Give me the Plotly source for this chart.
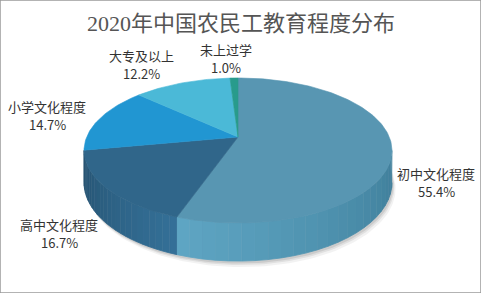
import numpy as np
import plotly.graph_objects as go

# ---- data ----
categories = ["初中文化程度", "高中文化程度", "小学文化程度", "大专及以上", "未上过学"]
values = [55.4, 16.7, 14.7, 12.2, 1.0]
title_text = "2020年中国农民工教育程度分布"

# ---- styles ----
top_colors = ["#5896b2", "#30668a", "#2196d2", "#4bb9d7", "#289b8c"]
side_light = ["#5fa6c4", "#35729a", "#1b7fb3", "#3a9cb8", "#22806f"]
side_dark = ["#3d7c98", "#24506e", "#176b99", "#2f86a0", "#1b6b5e"]
label_pos = [(436, 182), (59, 233), (47, 115), (141, 64), (226, 58)]

W, Hh = 481, 293
CX, CY = 238.0, 137.0      # projected pie centre
A0, C, E = 151.3, 70.0, 0.186  # perspective ellipse parameters
DEPTH = 31.0


def proj(t):
    u, v = np.sin(t), np.cos(t)
    w = 1 + E * v
    return CX + A0 * u / w, CY - C * v / w, w


fig = go.Figure()

total = sum(values)
fr = np.cumsum([0] + values) / total * 2 * np.pi
t_lo = np.arccos(-E)
t_hi = 2 * np.pi - t_lo

# shadow
ts = np.linspace(t_lo - 0.3, t_hi + 0.3, 120)
for off, alpha in [(6, 0.05), (4, 0.07), (2.5, 0.09)]:
    x, y, w = proj(ts)
    yb = y + DEPTH / w
    fig.add_trace(go.Scatter(x=list(x + off * 0.6) + [CX], y=list(yb + off) + [CY],
                             fill="toself", mode="lines", line=dict(width=0),
                             fillcolor=f"rgba(0,0,0,{alpha})", hoverinfo="skip",
                             showlegend=False))


def mix(c1, c2, f):
    a = [int(c1[i:i + 2], 16) for i in (1, 3, 5)]
    b = [int(c2[i:i + 2], 16) for i in (1, 3, 5)]
    return "#%02x%02x%02x" % tuple(int(round(a[k] + (b[k] - a[k]) * f)) for k in range(3))


# side walls
for i in range(len(values)):
    s, e = max(fr[i], t_lo), min(fr[i + 1], t_hi)
    if e <= s:
        continue
    n = 24
    edges = np.linspace(s, e, n + 1)
    for k in range(n):
        tt = np.linspace(edges[k], edges[k + 1], 6)
        x, y, w = proj(tt)
        yb = y + DEPTH / w
        mid = (edges[k] + edges[k + 1]) / 2
        f = (mid - t_lo) / (t_hi - t_lo)
        if i == 0:
            col = mix(side_dark[i], side_light[i], min(1, f * 1.6))
        else:
            col = mix(side_light[i], side_dark[i], min(1, (f - 0.6) / 0.4))
        fig.add_trace(go.Scatter(x=list(x) + list(x[::-1]), y=list(y) + list(yb[::-1]),
                                 fill="toself", mode="lines",
                                 line=dict(width=0.8, color=col), fillcolor=col,
                                 hoverinfo="skip", showlegend=False))

# top faces
for i in range(len(values)):
    tt = np.linspace(fr[i], fr[i + 1], max(4, int(values[i] * 3)))
    x, y, w = proj(tt)
    fig.add_trace(go.Scatter(x=[CX] + list(x) + [CX], y=[CY] + list(y) + [CY],
                             fill="toself", mode="lines",
                             line=dict(width=0.6, color=top_colors[i]),
                             fillcolor=top_colors[i], name=categories[i],
                             hoverinfo="name", showlegend=False))

# labels (name and percentage as separate lines)
lab_font = dict(family="Noto Sans CJK SC", size=13, color="#333333")
for cat, val, (lx, ly) in zip(categories, values, label_pos):
    fig.add_annotation(x=lx, y=ly - 9, xref="x", yref="y", showarrow=False,
                       text=cat, font=lab_font)
    fig.add_annotation(x=lx, y=ly + 9, xref="x", yref="y", showarrow=False,
                       text=f"{val:.1f}%", font=lab_font)

fig.add_annotation(x=0.5, y=23, xref="paper", yref="y", showarrow=False,
                   text=title_text,
                   font=dict(family="Liberation Serif, Noto Sans CJK SC", size=22, color="#555555"))

fig.add_shape(type="rect", xref="paper", yref="paper", x0=0, y0=0, x1=1, y1=1,
              line=dict(color="#9a9a9a", width=1.5))

fig.update_layout(width=W, height=Hh, margin=dict(l=0, r=0, t=0, b=0),
                  paper_bgcolor="white", plot_bgcolor="white", showlegend=False,
                  xaxis=dict(range=[0, W], visible=False, fixedrange=True),
                  yaxis=dict(range=[Hh, 0], visible=False, fixedrange=True))

fig.write_html("out.html")
